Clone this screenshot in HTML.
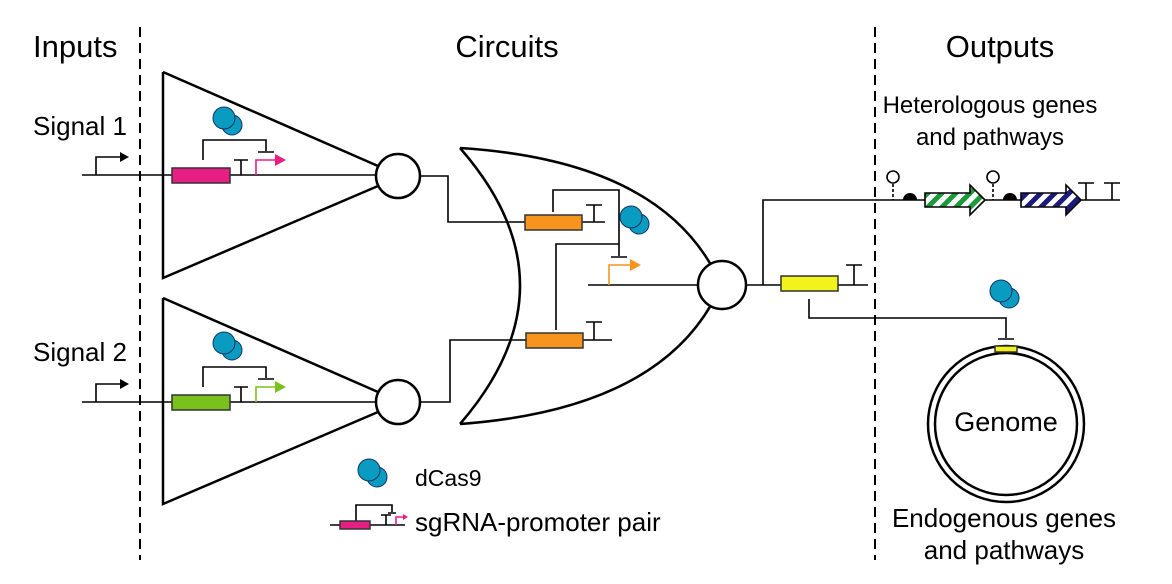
<!DOCTYPE html>
<html><head><meta charset="utf-8"><style>
html,body{margin:0;padding:0;background:#fff;}
svg{display:block;font-family:"Liberation Sans",Arial,sans-serif;}
</style></head><body>
<svg width="1172" height="584" viewBox="0 0 1172 584" xmlns="http://www.w3.org/2000/svg">
<defs>
<pattern id="pg" patternUnits="userSpaceOnUse" width="10" height="10" patternTransform="rotate(45)">
<rect width="10" height="10" fill="#fff"/><rect width="5" height="10" fill="#1a9a3a"/></pattern>
<pattern id="pb" patternUnits="userSpaceOnUse" width="10" height="10" patternTransform="rotate(45)">
<rect width="10" height="10" fill="#fff"/><rect width="5" height="10" fill="#1c1a7a"/></pattern>
<g id="cas">
<circle cx="8" cy="7" r="10" fill="#0a9cc0" stroke="#136" stroke-width="1"/>
<circle cx="0" cy="0" r="11" fill="#0a9cc0" stroke="#136" stroke-width="1"/>
</g>
</defs>
<g stroke="#000" stroke-width="2" stroke-dasharray="10,6"><line x1="140" y1="27" x2="140" y2="560"/><line x1="875" y1="27" x2="875" y2="560"/></g>
<g font-size="31" fill="#000">
<text x="33" y="57">Inputs</text>
<text x="507" y="57" text-anchor="middle">Circuits</text>
<text x="1000" y="57" text-anchor="middle">Outputs</text>
</g>
<g font-size="26" fill="#000">
<text x="33" y="135">Signal 1</text>
<text x="33" y="361">Signal 2</text>
<text x="990" y="113" text-anchor="middle" font-size="24">Heterologous genes</text>
<text x="990" y="145" text-anchor="middle" font-size="24">and pathways</text>
<text x="1004" y="527" text-anchor="middle">Endogenous genes</text>
<text x="1004" y="559" text-anchor="middle">and pathways</text>
<text x="415" y="486" font-size="23">dCas9</text>
<text x="415" y="531">sgRNA-promoter pair</text>
<text x="1006" y="431" text-anchor="middle" font-size="27">Genome</text>
</g>
<g fill="none" stroke="#000" stroke-width="2.5">
<path d="M163,72 L163,278 L378,186 M163,72 L378,166"/>
<path d="M163,298 L163,504 L378,412 M163,298 L378,392"/>
<circle cx="398" cy="176" r="22" fill="#fff"/>
<circle cx="398" cy="402" r="22" fill="#fff"/>
<path d="M460,148 Q580,285 460,424"/>
<path d="M460,148 Q650,160 711,265"/>
<path d="M460,424 Q650,410 711,305"/>
<circle cx="722" cy="285" r="24" fill="#fff"/>
<circle cx="1006" cy="424" r="78"/>
<circle cx="1006" cy="424" r="71"/>
</g>
<g fill="none" stroke="#000" stroke-width="1.6">
<path d="M82,175 H376 M82,402 H376"/>
<path d="M96,175 V157 H120 M96,402 V384 H120"/>
<path d="M241,175 V160 M234,160 H248 M203,160 V140 H266 V151 M258,152 H274"/>
<path d="M241,402 V387 M234,387 H248 M203,387 V367 H266 V378 M258,379 H274"/>
<path d="M420,176 H448 V222 H605 M594,222 V205 M586,205 H602"/>
<path d="M553,212 V190 H619 V256 M611,257 H627"/>
<path d="M420,402 H450 V340 H612 M594,340 V322 M586,322 H602"/>
<path d="M556,330 V244 H619"/>
<path d="M588,285 H698"/>
<path d="M746,285 H868 M763,285 V200 H1120 M854,285 V265 M846,265 H862"/>
<path d="M809,299 V318 H1006 V338 M998,339 H1014"/>
<path d="M1086,200 V183 M1078,183 H1094 M1112,200 V183 M1104,183 H1120"/>
<path d="M893,184 V200 M993,184 V200" stroke-dasharray="3,2"/>
<path d="M330,525 H405 M386,525 V515 M381,515 H391 M356,521 V505 H392 V512 M388,513 H396"/>
</g>
<g fill="none" stroke-width="1.6">
<path d="M256,175 V160 H276" stroke="#e91e84"/>
<path d="M256,402 V387 H276" stroke="#7bc11e"/>
<path d="M609,285 V265 H631" stroke="#f7941d"/>
<path d="M396,525 V517 H404" stroke="#e91e84"/>
</g>
<polygon points="120,152 129,157 120,162" fill="#000"/>
<polygon points="120,379 129,384 120,389" fill="#000"/>
<polygon points="275,154 286,160 275,166" fill="#e91e84"/>
<polygon points="275,381 286,387 275,393" fill="#7bc11e"/>
<polygon points="630,259 641,265 630,271" fill="#f7941d"/>
<polygon points="403,514 408,517 403,520" fill="#e91e84"/>
<g stroke="#333" stroke-width="1.5">
<rect x="172" y="168" width="58" height="15" fill="#e91e84"/>
<rect x="172" y="395" width="58" height="15" fill="#7bc11e"/>
<rect x="525" y="215" width="57" height="15" fill="#f7941d"/>
<rect x="526" y="333" width="57" height="15" fill="#f7941d"/>
<rect x="781" y="276" width="57" height="15" fill="#f2f21c"/>
<rect x="340" y="521" width="30" height="8" fill="#e91e84"/>
<rect x="995" y="346" width="22" height="6" fill="#f2f21c"/>
</g>
<g stroke="#000" stroke-width="1.6">
<circle cx="893" cy="177" r="6" fill="#fff"/>
<circle cx="993" cy="177" r="6" fill="#fff"/>
</g>
<path d="M903,200 A7,7 0 0 1 917,200 Z" fill="#000"/>
<path d="M1003,200 A7,7 0 0 1 1017,200 Z" fill="#000"/>
<path d="M925,193 H970 V185 L985,200 L970,215 V207 H925 Z" fill="url(#pg)" stroke="#000" stroke-width="1.6"/>
<path d="M1021,193 H1066 V185 L1081,200 L1066,215 V207 H1021 Z" fill="url(#pb)" stroke="#000" stroke-width="1.6"/>
<use href="#cas" x="224" y="118"/>
<use href="#cas" x="224" y="343"/>
<use href="#cas" x="631" y="217"/>
<use href="#cas" x="1001" y="291"/>
<use href="#cas" x="369" y="470"/>
</svg>
</body></html>
